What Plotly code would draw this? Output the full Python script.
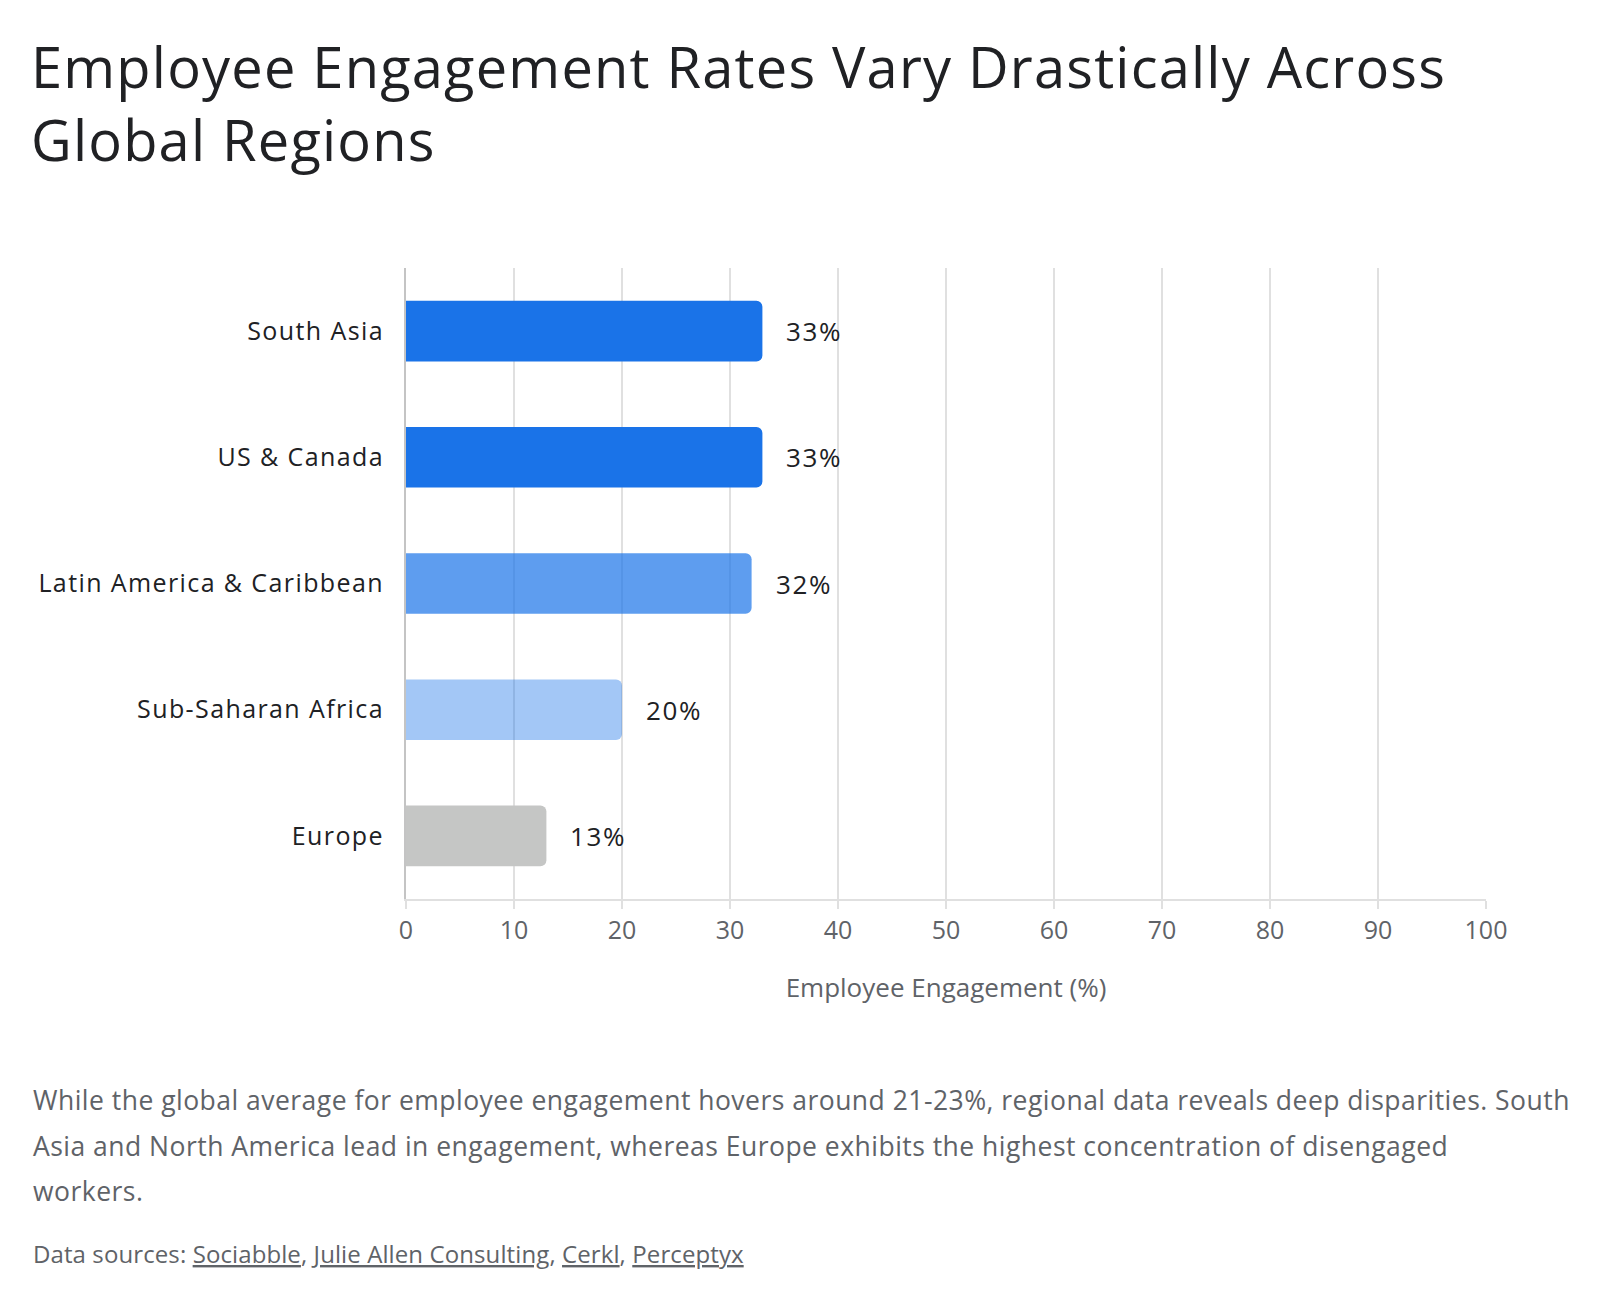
import plotly.graph_objects as go

regions = ["South Asia", "US & Canada", "Latin America & Caribbean", "Sub-Saharan Africa", "Europe"]
engagement = [33, 33, 32, 20, 13]
bar_colors = ["rgba(26,115,232,1)", "rgba(26,115,232,1)", "rgba(26,115,232,0.7)",
              "rgba(26,115,232,0.4)", "rgba(197,198,197,1)"]
x_ticks = [0, 10, 20, 30, 40, 50, 60, 70, 80, 90, 100]

title_lines = ["Employee Engagement Rates Vary Drastically Across", "Global Regions"]
caption_lines = [
    "While the global average for employee engagement hovers around 21-23%, regional data reveals deep disparities. South",
    "Asia and North America lead in engagement, whereas Europe exhibits the highest concentration of disengaged",
    "workers.",
]
sources = ["Sociabble", "Julie Allen Consulting", "Cerkl", "Perceptyx"]

FONT = "Open Sans"
DARK = "#202124"
GREY = "#5f6368"

H = 1302
W = 1600
L, R, T, B = 406, 114, 268, 403
ph = H - T - B
pw = W - L - R


def py(y):
    return (H - B - y) / ph


def px(x):
    return (x - L) / pw


def spaced(s, ls):
    return f'<span style="letter-spacing:{ls}px">{s}</span>'


fig = go.Figure()
fig.add_trace(go.Bar(
    x=engagement, y=regions, orientation="h",
    marker=dict(color=bar_colors, line=dict(width=0), cornerradius=6),
    width=0.48, hoverinfo="skip",
))

for r, v in zip(regions, engagement):
    fig.add_annotation(x=v, y=r, text=spaced(f"{v}%", 1.6), showarrow=False, xanchor="left",
                       xshift=22, font=dict(family=FONT, size=26, color=DARK))

title_y = [90, 163]
for line, yb in zip(title_lines, title_y):
    fig.add_annotation(xref="paper", yref="paper", x=px(29), y=py(yb + 16),
                       xanchor="left", yanchor="bottom", text=spaced(line, 1.2), showarrow=False,
                       font=dict(family=FONT, size=56, color=DARK))

cap_y = [1100, 1146, 1191]
for line, yc in zip(caption_lines, cap_y):
    fig.add_annotation(xref="paper", yref="paper", x=px(31), y=py(yc),
                       xanchor="left", yanchor="middle", text=spaced(line, 0.48), showarrow=False,
                       font=dict(family=FONT, size=26.5, color=GREY))

src_text = spaced("Data sources: ", 0.1) + spaced(", ", 0.1).join(
    f'<span style="text-decoration:underline;letter-spacing:0.1px">{s}</span>' for s in sources)
fig.add_annotation(xref="paper", yref="paper", x=px(31), y=py(1253),
                   xanchor="left", yanchor="middle", text=src_text, showarrow=False,
                   font=dict(family=FONT, size=24, color=GREY))

fig.update_layout(
    width=W, height=H,
    margin=dict(l=L, r=R, t=T, b=B, autoexpand=False),
    paper_bgcolor="white", plot_bgcolor="white",
    showlegend=False,
    font=dict(family=FONT, color=DARK),
    xaxis=dict(range=[0, 100], tickvals=x_ticks, showgrid=True, gridcolor="#e0e0e0", gridwidth=2,
               zeroline=False, showline=True, linecolor="#e0e0e0", linewidth=2,
               ticks="outside", ticklen=8, tickcolor="#e0e0e0", tickwidth=2,
               tickfont=dict(family=FONT, size=25, color=GREY),
               title=dict(text="Employee Engagement (%)", font=dict(family=FONT, size=26, color=GREY),
                          standoff=34),
               fixedrange=True),
    yaxis=dict(autorange="reversed", showgrid=False, showline=True, linecolor="#c4c4c4", linewidth=2,
               ticks="", ticklabelstandoff=15,
               tickvals=regions, ticktext=[spaced(r, 1.4) for r in regions],
               tickfont=dict(family=FONT, size=25, color=DARK), fixedrange=True),
    bargap=0.52,
)

fig.write_html("out.html")
